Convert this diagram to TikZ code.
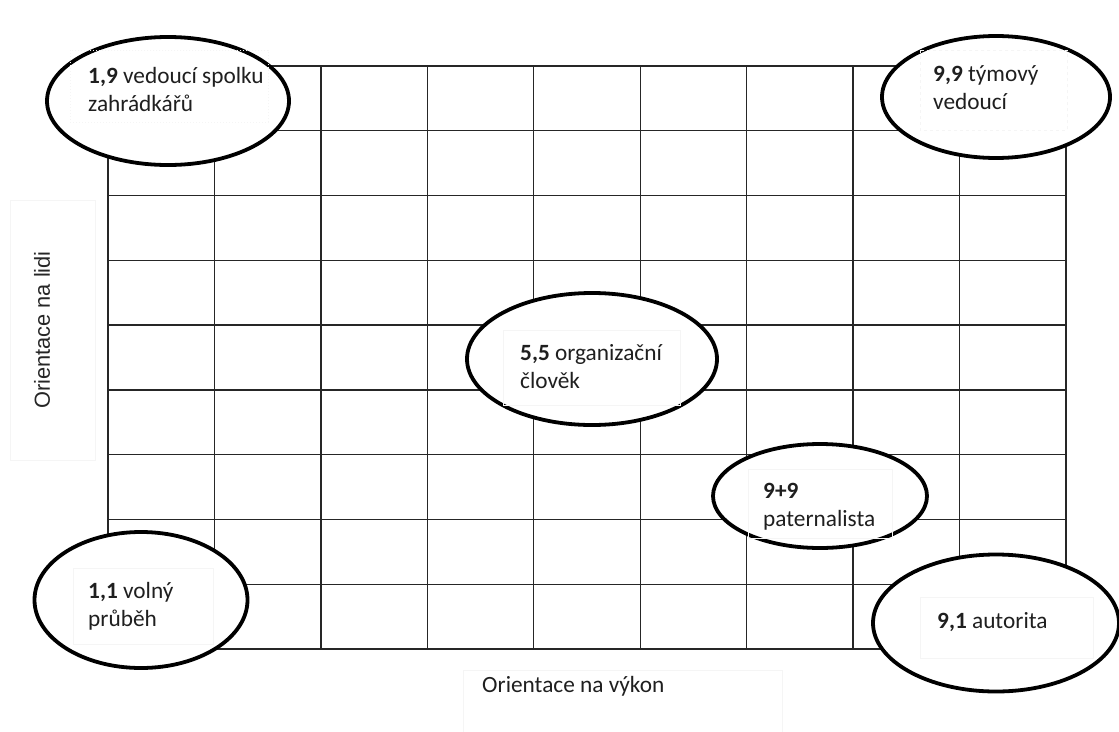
\documentclass[tikz,border=0pt]{standalone}
\usepackage{fontspec}
\setmainfont{Carlito}
\newfontfamily\arialfont{Liberation Sans}
\usetikzlibrary{shapes.geometric}
\begin{document}
\begin{tikzpicture}[x=1pt,y=-1pt,
  gridline/.style={line width=1.3pt, black!85},
  oval/.style={ellipse, draw=black, line width=3.8pt, fill=white, inner sep=0pt},
  txt/.style={inner sep=0pt, align=left, anchor=west, font=\fontsize{23.3}{28}\selectfont, text=black!88},
  tbox/.style={draw=black!4, line width=1pt},
]
\useasboundingbox[fill=white] (0,0) rectangle (1119,731);
% grid
\foreach \i in {0,...,9}{
  \draw[gridline] ({108+106.44*\i},66) -- ({108+106.44*\i},649);
  \draw[gridline] (108,{66+64.78*\i}) -- (1066,{66+64.78*\i});
}
% ellipses
\node[oval, minimum width=242pt, minimum height=128pt] (e19) at (168,101) {};
\node[oval, minimum width=228pt, minimum height=122pt] (e99) at (996,97) {};
\node[oval, minimum width=250pt, minimum height=132pt] (e55) at (592,359) {};
\node[oval, minimum width=214pt, minimum height=104pt] (e9p9) at (820,496) {};
\node[oval, minimum width=213pt, minimum height=136pt] (e11) at (141,600) {};
\node[oval, minimum width=246pt, minimum height=137pt] (e91) at (996,623) {};
% faint text boxes
\draw[tbox, dotted] (70,50) rectangle (268,122);
\draw[tbox, dashed] (920,50) rectangle (1067,130);
\draw[tbox] (503,330) rectangle (680,405);
\draw[tbox] (748,469) rectangle (892,538);
\draw[tbox] (73,568) rectangle (213,644);
\draw[tbox] (920,597) rectangle (1093,658);
% texts
\node[txt] (t19) at (88,89) {\textbf{1,9} vedoucí spolku\\zahrádkářů};
\node[txt] (t99) at (933,88) {\textbf{9,9} týmový\\vedoucí};
\node[txt] (t55) at (520,367) {\textbf{5,5} organizační\\člověk};
\node[txt] (t9p9) at (763,507) {\textbf{9+9}\\paternalista};
\node[txt] (t11) at (88,606) {\textbf{1,1} volný\\průběh};
\node[txt] (t91) at (937,622) {\textbf{9,1} autorita};
% axis labels
\draw[tbox] (10,200) rectangle (95,460);
\node[inner sep=0pt, rotate=90, text=black!85, font=\arialfont\fontsize{21.8}{26}\selectfont] (ly) at (42,330) {Orientace na lidi};
\draw[tbox] (463,670) rectangle (782,735);
\node[txt] (lx) at (482,686) {Orientace na výkon};
\end{tikzpicture}
\end{document}
